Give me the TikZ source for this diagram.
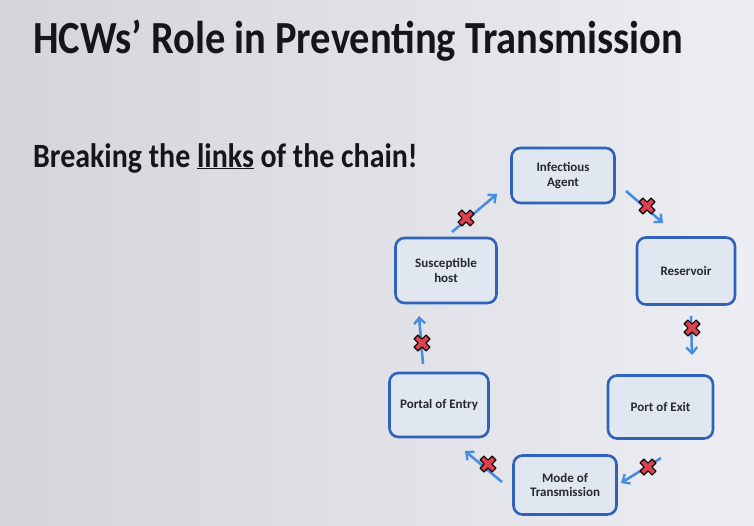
\documentclass[tikz,border=0pt]{standalone}
\usepackage{fontspec}
\setmainfont{Carlito}
\newfontfamily\condfont[FakeStretch=0.88]{Carlito}
\usetikzlibrary{arrows.meta}
\definecolor{bgL}{RGB}{212,212,218}
\definecolor{bgR}{RGB}{236,238,243}
\definecolor{boxline}{RGB}{48,98,186}
\definecolor{boxfill}{RGB}{224,231,240}
\definecolor{arrblue}{RGB}{72,142,222}
\definecolor{xred}{RGB}{222,64,78}
\definecolor{txt}{RGB}{22,22,26}
\definecolor{boxtxt}{RGB}{40,40,46}
\tikzset{
  linkbox/.style={draw=boxline, line width=2.6pt, fill=boxfill, rounded corners=9pt,
    minimum width=#1, align=center, text=boxtxt, font=\bfseries\fontsize{13}{14.5}\selectfont, inner sep=0pt},
  linkarr/.style={draw=arrblue, line width=2.6pt, -{Straight Barb[length=6pt,width=11pt,line width=2.4pt]}},
  xmark/.pic={
    \filldraw[fill=xred, draw=black, line width=1.1pt, line join=round, rotate=45]
      (2.8,2.8)--(2.8,8.5)--(-2.8,8.5)--(-2.8,2.8)--(-8.5,2.8)--(-8.5,-2.8)--(-2.8,-2.8)
      --(-2.8,-8.5)--(2.8,-8.5)--(2.8,-2.8)--(8.5,-2.8)--(8.5,2.8)--cycle;
  }
}
\begin{document}
\begin{tikzpicture}[x=1pt,y=-1pt]
\shade[left color=bgL, right color=bgR] (0,0) rectangle (754,525);
\useasboundingbox (0,0) rectangle (754,525);
\node[anchor=base west, text=txt, inner sep=0pt, font=\condfont\bfseries\fontsize{46}{50}\selectfont] (title) at (33,53) {HCWs’ Role in Preventing Transmission};
\node[anchor=base west, text=txt, inner sep=0pt, font=\condfont\bfseries\fontsize{34}{38}\selectfont] (sub) at (33,167) {Breaking the \underline{links} of the chain!};
% boxes
\node[linkbox=103pt, minimum height=55pt] (ia) at (563,175.5) {Infectious\\Agent};
\node[linkbox=98pt, minimum height=67pt] (rv) at (686,271) {Reservoir};
\node[linkbox=105pt, minimum height=63pt] (pe) at (660.5,407) {Port of Exit};
\node[linkbox=103pt, minimum height=59pt] (mt) at (565,485) {Mode of\\Transmission};
\node[linkbox=99pt, minimum height=64pt] (po) at (439,405) {Portal of Entry};
\node[linkbox=101pt, minimum height=65pt] (sh) at (446,270.5) {Susceptible\\host};
% arrow ends
\coordinate (a1s) at (452,232); \coordinate (a1e) at (497,194);
\coordinate (a2s) at (626,191); \coordinate (a2e) at (663,223);
\coordinate (a3s) at (691,316); \coordinate (a3e) at (692,355);
\coordinate (a4s) at (661,458); \coordinate (a4e) at (621,483);
\coordinate (a5s) at (502,482); \coordinate (a5e) at (465,451);
\coordinate (a6s) at (423,364); \coordinate (a6e) at (419,316);
\draw[linkarr] (a1s) -- (a1e);
\draw[linkarr] (a2s) -- (a2e);
\draw[linkarr] (a3s) -- (a3e);
\draw[linkarr] (a4s) -- (a4e);
\draw[linkarr] (a5s) -- (a5e);
\draw[linkarr] (a6s) -- (a6e);
% x marks
\pic at (466,218) {xmark};
\pic at (647,206) {xmark};
\pic at (692,328) {xmark};
\pic at (648,467) {xmark};
\pic at (488,464) {xmark};
\pic at (422,343) {xmark};
\end{tikzpicture}
\end{document}
